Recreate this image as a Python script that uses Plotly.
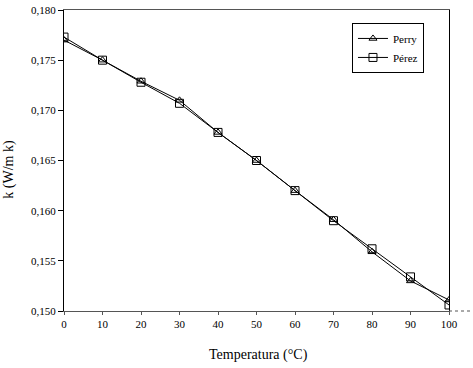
import plotly.graph_objects as go

temperatura = [0, 10, 20, 30, 40, 50, 60, 70, 80, 90, 100]
k_perry = [0.1770, 0.1750, 0.1729, 0.1710, 0.1678, 0.1650, 0.1620, 0.1591, 0.1559, 0.1530, 0.1511]
k_perez = [0.1773, 0.1750, 0.1728, 0.1707, 0.1678, 0.1650, 0.1620, 0.1590, 0.1562, 0.1534, 0.1506]
x_ticks = [0, 10, 20, 30, 40, 50, 60, 70, 80, 90, 100]
y_ticks = [0.150, 0.155, 0.160, 0.165, 0.170, 0.175, 0.180]

font_family = "Liberation Serif, Times New Roman, serif"

fig = go.Figure()
fig.add_trace(go.Scatter(
    x=temperatura, y=k_perry, name="Perry", mode="lines+markers",
    line=dict(color="black", width=1),
    marker=dict(symbol="triangle-up-open", size=7, color="black", line=dict(width=1)),
))
fig.add_trace(go.Scatter(
    x=temperatura, y=k_perez, name="Pérez", mode="lines+markers",
    line=dict(color="black", width=1),
    marker=dict(symbol="square-open", size=8, color="black", line=dict(width=1)),
))

fig.update_layout(
    width=473, height=368,
    margin=dict(l=64, r=24, t=10, b=57, autoexpand=False),
    paper_bgcolor="white", plot_bgcolor="white",
    separators=", ",
    font=dict(family=font_family, size=11, color="black"),
    showlegend=True,
    legend=dict(
        x=0.748, y=0.957, xanchor="left", yanchor="top",
        bordercolor="black", borderwidth=1, bgcolor="white",
        font=dict(family=font_family, size=11, color="black"),
        itemwidth=30,
    ),
    shapes=[dict(type="line", xref="paper", yref="paper", x0=1, x1=1.057, y0=0, y1=0,
                 line=dict(color="#555555", width=1, dash="dot"))],
    annotations=[
        dict(text="Temperatura (°C)", xref="paper", yref="paper", x=0.504, y=-0.145,
             xanchor="center", yanchor="middle", showarrow=False,
             font=dict(family=font_family, size=14, color="black")),
        dict(text="k (W/m k)", xref="paper", yref="paper", x=-0.145, y=0.47,
             xanchor="center", yanchor="middle", showarrow=False, textangle=-90,
             font=dict(family=font_family, size=14, color="black")),
    ],
)
fig.update_xaxes(
    range=[0, 100], tickvals=x_ticks, ticktext=[str(v) for v in x_ticks],
    showgrid=False, zeroline=False, automargin=False,
    showline=True, linecolor="#555555", linewidth=1, mirror=True,
    ticks="outside", ticklen=3, tickcolor="#555555",
    tickfont=dict(family=font_family, size=11),
)
fig.update_yaxes(
    range=[0.150, 0.180], tickvals=y_ticks, tickformat=".3f",
    showgrid=False, zeroline=False, automargin=False,
    showline=True, linecolor="black", linewidth=1, mirror=True,
    ticks="outside", ticklen=5, tickcolor="black",
    tickfont=dict(family=font_family, size=11),
)

fig.write_html("out.html", config={"displayModeBar": False},
               post_script="document.body.style.margin='0';")
